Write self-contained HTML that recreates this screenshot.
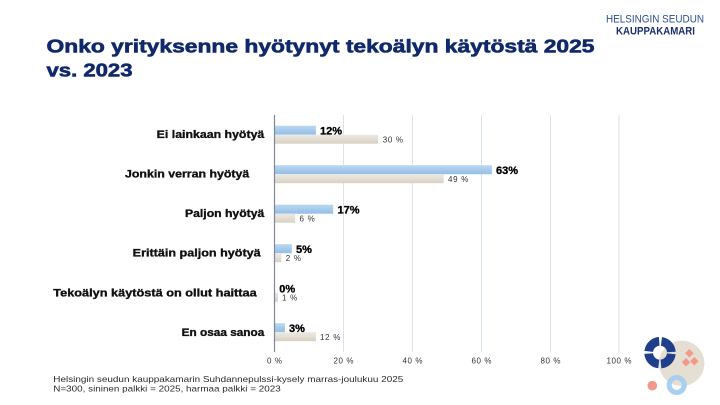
<!DOCTYPE html>
<html><head><meta charset="utf-8"><style>
html,body{margin:0;padding:0;background:#fff;}
svg{display:block;}
text{font-family:"Liberation Sans",sans-serif;}
</style></head><body>
<svg width="720" height="405" viewBox="0 0 720 405" xmlns="http://www.w3.org/2000/svg">
<defs>
<linearGradient id="gb" x1="0" y1="0" x2="0" y2="1"><stop offset="0" stop-color="#bcd7f1"/><stop offset="1" stop-color="#92bee6"/></linearGradient>
<linearGradient id="gg" x1="0" y1="0" x2="0" y2="1"><stop offset="0" stop-color="#eeeae2"/><stop offset="1" stop-color="#d8d0c3"/></linearGradient>
</defs>
<rect width="720" height="405" fill="#fff"/>
<!-- logo -->
<text x="606" y="22.5" font-size="11" fill="#2d4f8e" textLength="98" lengthAdjust="spacingAndGlyphs">HELSINGIN SEUDUN</text>
<text x="616" y="34.5" font-size="11" font-weight="bold" fill="#1c2e6b" textLength="79" lengthAdjust="spacingAndGlyphs">KAUPPAKAMARI</text>
<!-- title -->
<g font-weight="bold" fill="#10296a" stroke="#10296a" stroke-width="0.6">
<text x="46.5" y="52.5" font-size="18" textLength="548" lengthAdjust="spacingAndGlyphs">Onko yrityksenne hyötynyt tekoälyn käytöstä 2025</text>
<text x="46.5" y="76.5" font-size="18" textLength="86" lengthAdjust="spacingAndGlyphs">vs. 2023</text>
</g>
<!-- gridlines -->
<g stroke="#d9e3ee" stroke-width="1">
<line x1="343.5" y1="115" x2="343.5" y2="352"/>
<line x1="412.5" y1="115" x2="412.5" y2="352"/>
<line x1="481.5" y1="115" x2="481.5" y2="352"/>
<line x1="550.5" y1="115" x2="550.5" y2="352"/>
<line x1="619" y1="115" x2="619" y2="352"/>
</g>
<!-- bars -->
<g>
<rect x="274.5" y="125.7" width="41.4" height="9" fill="url(#gb)"/>
<rect x="274.5" y="134.7" width="103.5" height="9" fill="url(#gg)"/>
<rect x="274.5" y="165.2" width="217.4" height="9" fill="url(#gb)"/>
<rect x="274.5" y="174.2" width="169.1" height="9" fill="url(#gg)"/>
<rect x="274.5" y="204.7" width="58.7" height="9" fill="url(#gb)"/>
<rect x="274.5" y="213.7" width="20.7" height="9" fill="url(#gg)"/>
<rect x="274.5" y="244.2" width="17.3" height="9" fill="url(#gb)"/>
<rect x="274.5" y="253.2" width="6.9" height="9" fill="url(#gg)"/>
<rect x="274.5" y="292.7" width="3.5" height="9" fill="url(#gg)"/>
<rect x="274.5" y="323.2" width="10.4" height="9" fill="url(#gb)"/>
<rect x="274.5" y="332.2" width="41.4" height="9" fill="url(#gg)"/>
</g>
<line x1="274.5" y1="115" x2="274.5" y2="352" stroke="#80879f" stroke-width="1.2"/>
<!-- value labels 2025 -->
<g font-size="11" font-weight="bold" fill="#000" stroke="#000" stroke-width="0.3">
<text x="320" y="134.5">12%</text>
<text x="496" y="174">63%</text>
<text x="337.5" y="213.5">17%</text>
<text x="296" y="253">5%</text>
<text x="279.3" y="292.5">0%</text>
<text x="289" y="332">3%</text>
</g>
<!-- value labels 2023 -->
<g font-size="8" fill="#333" letter-spacing="0.7">
<text x="382.7" y="142.3">30 %</text>
<text x="448" y="181.8">49 %</text>
<text x="299.5" y="221.3">6 %</text>
<text x="285.8" y="260.8">2 %</text>
<text x="282" y="300.3">1 %</text>
<text x="320" y="339.8">12 %</text>
</g>
<!-- category labels -->
<g font-size="11" font-weight="bold" fill="#111" stroke="#111" stroke-width="0.35">
<text x="156.7" y="138.2" textLength="107.6" lengthAdjust="spacingAndGlyphs">Ei lainkaan hyötyä</text>
<text x="125" y="177.7" textLength="124.3" lengthAdjust="spacingAndGlyphs">Jonkin verran hyötyä</text>
<text x="185" y="217.2" textLength="79.3" lengthAdjust="spacingAndGlyphs">Paljon hyötyä</text>
<text x="132.7" y="256.7" textLength="128" lengthAdjust="spacingAndGlyphs">Erittäin paljon hyötyä</text>
<text x="53.3" y="296.7" textLength="203.4" lengthAdjust="spacingAndGlyphs">Tekoälyn käytöstä on ollut haittaa</text>
<text x="181.7" y="336.2" textLength="82.6" lengthAdjust="spacingAndGlyphs">En osaa sanoa</text>
</g>
<!-- tick labels -->
<g font-size="8" fill="#333" letter-spacing="0.6" text-anchor="middle">
<text x="274.8" y="363.5">0 %</text>
<text x="343.8" y="363.5">20 %</text>
<text x="412.8" y="363.5">40 %</text>
<text x="481.8" y="363.5">60 %</text>
<text x="550.8" y="363.5">80 %</text>
<text x="619.3" y="363.5">100 %</text>
</g>
<!-- footer -->
<text x="53.3" y="382" font-size="8.5" fill="#2b2b2b" textLength="350" lengthAdjust="spacingAndGlyphs">Helsingin seudun kauppakamarin Suhdannepulssi-kysely marras-joulukuu 2025</text>
<text x="53.3" y="391.5" font-size="8.5" fill="#2b2b2b" textLength="227.4" lengthAdjust="spacingAndGlyphs">N=300, sininen palkki = 2025, harmaa palkki = 2023</text>
<!-- decorations -->
<circle cx="681.7" cy="363.3" r="22.7" fill="#e4ded3"/>
<circle cx="660" cy="352.7" r="11.35" fill="none" stroke="#1f3f8c" stroke-width="8.7" stroke-dasharray="15.53 2.3" stroke-dashoffset="16.68"/>
<g fill="#f29a8a">
<rect x="686.3" y="350.3" width="6" height="6" transform="rotate(45 689.3 353.3)"/>
<rect x="683" y="359.3" width="6" height="6" transform="rotate(45 686 362.3)"/>
<rect x="691.3" y="358.3" width="6" height="6" transform="rotate(45 694.3 361.3)"/>
</g>
<circle cx="652.3" cy="385.7" r="4.8" fill="#f29a8a"/>
<circle cx="676.7" cy="385" r="7.5" fill="none" stroke="#a9cff0" stroke-width="5"/>
</svg>
</body></html>
